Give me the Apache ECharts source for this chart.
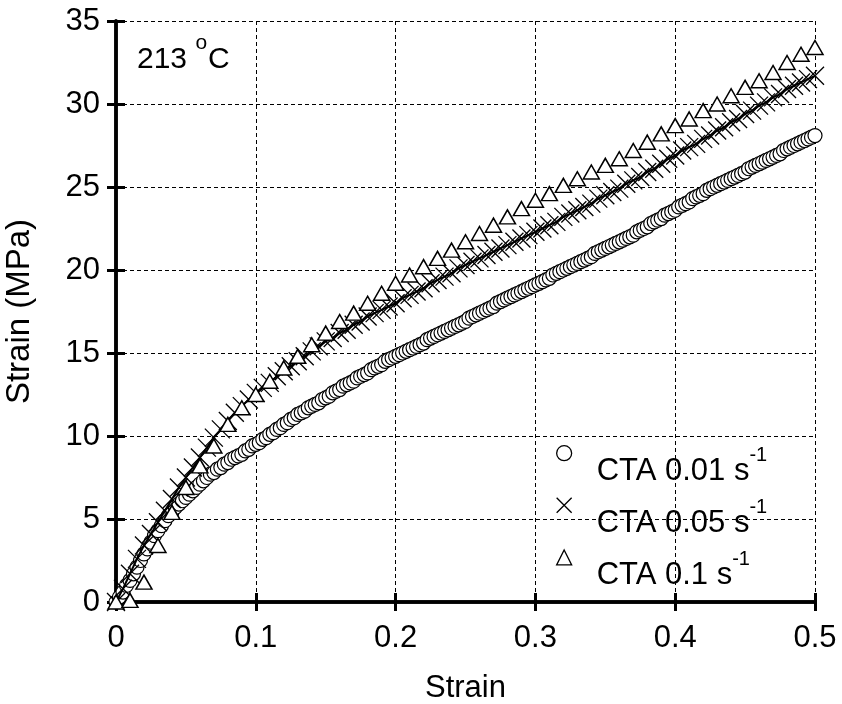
<!DOCTYPE html>
<html>
<head>
<meta charset="utf-8">
<script src="https://cdn.jsdelivr.net/npm/echarts@6/dist/echarts.min.js"></script>
<style>
  html, body { margin: 0; padding: 0; background: #fff; }
  #main { width: 842px; height: 704px; }
</style>
</head>
<body>
<div id="main"></div>
<script>
// strain sampling of each test
const fineStep = 0.0025;   // circles
const midStep = 0.005;     // crosses
const coarseStep = 0.01;   // triangles

// CTA 0.01 s-1 (circles)
const stress001 = [
  0, 0.3, 0.6, 1.0, 1.3, 1.7, 2.1, 2.5, 2.9, 3.2,
  3.6, 4.0, 4.3, 4.6, 4.9, 5.2, 5.4, 5.7, 5.9, 6.1,
  6.3, 6.5, 6.7, 6.9, 7.1, 7.3, 7.5, 7.7, 7.8, 8.0,
  8.1, 8.3, 8.4, 8.6, 8.7, 8.8, 8.9, 9.1, 9.2, 9.4,
  9.5, 9.6, 9.8, 9.9, 10.1, 10.2, 10.4, 10.5, 10.7, 10.8,
  11.0, 11.1, 11.3, 11.4, 11.5, 11.7, 11.8, 11.9, 12.0, 12.2,
  12.3, 12.4, 12.6, 12.7, 12.8, 13.0, 13.1, 13.2, 13.3, 13.5,
  13.6, 13.7, 13.8, 14.0, 14.1, 14.2, 14.3, 14.5, 14.6, 14.7,
  14.8, 14.9, 15.0, 15.1, 15.2, 15.3, 15.4, 15.5, 15.6, 15.8,
  15.9, 16.0, 16.1, 16.2, 16.3, 16.4, 16.5, 16.6, 16.7, 16.8,
  16.9, 17.1, 17.2, 17.3, 17.4, 17.5, 17.6, 17.7, 17.8, 18.0,
  18.1, 18.2, 18.3, 18.4, 18.5, 18.6, 18.7, 18.8, 18.9, 19.0,
  19.1, 19.2, 19.3, 19.4, 19.5, 19.7, 19.8, 19.9, 20.0, 20.1,
  20.2, 20.3, 20.4, 20.5, 20.6, 20.7, 20.8, 21.0, 21.1, 21.2,
  21.3, 21.4, 21.5, 21.6, 21.7, 21.8, 21.9, 22.0, 22.1, 22.3,
  22.4, 22.5, 22.6, 22.8, 22.9, 23.0, 23.1, 23.3, 23.4, 23.5,
  23.6, 23.8, 23.9, 24.0, 24.1, 24.3, 24.4, 24.5, 24.6, 24.8,
  24.9, 25.0, 25.1, 25.2, 25.3, 25.4, 25.5, 25.6, 25.7, 25.8,
  25.9, 26.1, 26.2, 26.3, 26.4, 26.5, 26.6, 26.7, 26.8, 26.9,
  27.0, 27.2, 27.3, 27.4, 27.5, 27.6, 27.7, 27.8, 27.9, 28.0,
  28.1
];

// CTA 0.05 s-1 (crosses with line)
const stress005 = [
  0, 0.8, 1.7, 2.6, 3.4, 4.1, 4.8, 5.5, 6.2, 6.9,
  7.5, 8.1, 8.7, 9.3, 9.9, 10.4, 10.9, 11.4, 11.8, 12.2,
  12.6, 12.9, 13.2, 13.6, 13.9, 14.2, 14.5, 14.8, 15.1, 15.4,
  15.7, 15.9, 16.2, 16.4, 16.7, 16.9, 17.2, 17.4, 17.6, 17.8,
  18.0, 18.3, 18.5, 18.7, 18.9, 19.2, 19.4, 19.6, 19.8, 20.1,
  20.3, 20.5, 20.7, 20.9, 21.1, 21.3, 21.5, 21.7, 21.9, 22.1,
  22.3, 22.5, 22.7, 22.9, 23.2, 23.4, 23.6, 23.8, 24.0, 24.3,
  24.5, 24.7, 24.9, 25.2, 25.4, 25.6, 25.9, 26.1, 26.4, 26.7,
  26.9, 27.2, 27.4, 27.6, 27.9, 28.1, 28.4, 28.6, 28.9, 29.1,
  29.4, 29.6, 29.9, 30.1, 30.4, 30.6, 30.9, 31.1, 31.3, 31.5,
  31.7
];

// CTA 0.1 s-1 (triangles)
const stress01 = [
  0, 0.1, 1.2, 3.4, 5.4, 6.9, 8.2, 9.4, 10.7, 11.7,
  12.5, 13.3, 14.1, 14.8, 15.5, 16.2, 16.9, 17.4, 18.0, 18.6,
  19.2, 19.7, 20.2, 20.7, 21.2, 21.7, 22.2, 22.7, 23.2, 23.7,
  24.2, 24.6, 25.1, 25.5, 25.9, 26.3, 26.7, 27.2, 27.7, 28.2,
  28.7, 29.1, 29.6, 30.0, 30.5, 31.0, 31.4, 31.9, 32.5, 33.0,
  33.4
];

const seriesNames = ['CTA 0.01', 'CTA 0.05', 'CTA 0.1'];
const xTicks = [0, 0.1, 0.2, 0.3, 0.4, 0.5];
const yTicks = [0, 5, 10, 15, 20, 25, 30, 35];

function pairs(values, step) {
  return values.map(function (v, i) { return [+(i * step).toFixed(4), v]; });
}

const font = 'Liberation Sans, Arial, sans-serif';
const crossPath = 'path://M0,0L10,10M10,0L0,10';

let myChart = echarts.init(document.getElementById('main'));

let frameAxis = {
  axisLine: { show: true, lineStyle: { color: '#000', width: 3.5 } },
  axisTick: { show: true, inside: true, length: 9, lineStyle: { color: '#000', width: 3 } }
};
let dashed = { show: true, lineStyle: { color: '#000', width: 1, type: [4, 3] } };

let option = {
  backgroundColor: '#fff',
  animation: false,
  textStyle: { fontFamily: font },
  title: {
    text: '{a|213 }{b|o}{a|C}',
    left: 132,
    top: 28,
    textStyle: {
      fontWeight: 'normal',
      rich: {
        a: { fontSize: 30, fontFamily: font, color: '#000', lineHeight: 42, verticalAlign: 'bottom' },
        b: { fontSize: 21, fontFamily: font, color: '#000', verticalAlign: 'top', lineHeight: 14, padding: [0, 1, 0, 0] }
      }
    }
  },
  grid: { left: 116, right: 27, top: 21, bottom: 102, outerBoundsMode: 'none', containLabel: false },
  legend: {
    orient: 'vertical',
    left: 551,
    top: 440,
    itemGap: 10,
    itemWidth: 15,
    itemHeight: 15,
    selectedMode: false,
    data: [
      { name: seriesNames[0], icon: 'circle' },
      { name: seriesNames[1], icon: crossPath },
      { name: seriesNames[2], icon: 'triangle' }
    ],
    itemStyle: { color: '#fff', borderColor: '#000', borderWidth: 1.3 },
    formatter: function (name) { return '{t|' + name + ' s}{s|-1}'; },
    textStyle: {
      padding: [26, 0, 0, 20],
      rich: {
        t: { fontSize: 31, fontFamily: font, color: '#000', lineHeight: 42, verticalAlign: 'bottom' },
        s: { fontSize: 20, fontFamily: font, color: '#000', verticalAlign: 'top', lineHeight: 12 }
      }
    }
  },
  xAxis: [
    Object.assign({
      type: 'value', min: 0, max: 0.5, interval: 0.1,
      name: 'Strain', nameLocation: 'middle', nameGap: 71,
      nameTextStyle: { fontSize: 31, color: '#000', fontFamily: font },
      axisLabel: { fontSize: 31, color: '#000', margin: 21, fontFamily: font,
        formatter: function (v) { return xTicks.indexOf(+v.toFixed(1)) >= 0 ? String(+v.toFixed(1)) : ''; } },
      splitLine: dashed
    }, frameAxis),
    Object.assign({
      type: 'value', min: 0, max: 0.5, interval: 0.1, position: 'top',
      axisLabel: { show: false }, splitLine: { show: false }
    }, frameAxis)
  ],
  yAxis: [
    Object.assign({
      type: 'value', min: 0, max: 35, interval: 5,
      name: 'Strain (MPa)', nameLocation: 'middle', nameGap: 80,
      nameTextStyle: { fontSize: 33, color: '#000', fontFamily: font },
      axisLabel: { fontSize: 31, color: '#000', margin: 16, fontFamily: font,
        formatter: function (v) { return yTicks.indexOf(v) >= 0 ? String(v) : ''; } },
      splitLine: dashed
    }, frameAxis),
    Object.assign({
      type: 'value', min: 0, max: 35, interval: 5, position: 'right',
      axisLabel: { show: false }, splitLine: { show: false }
    }, frameAxis)
  ],
  series: [
    {
      name: seriesNames[0],
      type: 'line',
      data: pairs(stress001, fineStep),
      showAllSymbol: true,
      symbol: 'circle',
      symbolSize: 14,
      clip: false,
      lineStyle: { width: 0 },
      itemStyle: { color: '#fff', borderColor: '#000', borderWidth: 1.2 },
      z: 3
    },
    {
      name: seriesNames[1],
      type: 'line',
      data: pairs(stress005, midStep),
      showAllSymbol: true,
      symbol: crossPath,
      symbolSize: 18,
      clip: false,
      lineStyle: { color: '#000', width: 2 },
      itemStyle: { color: 'none', borderColor: '#000', borderWidth: 1.3 },
      z: 4
    },
    {
      name: seriesNames[2],
      type: 'line',
      data: pairs(stress01, coarseStep),
      showAllSymbol: true,
      symbol: 'triangle',
      symbolSize: [16, 14],
      clip: false,
      lineStyle: { width: 0 },
      itemStyle: { color: '#fff', borderColor: '#000', borderWidth: 1.5 },
      z: 5
    }
  ]
};

myChart.setOption(option);
</script>
</body>
</html>
